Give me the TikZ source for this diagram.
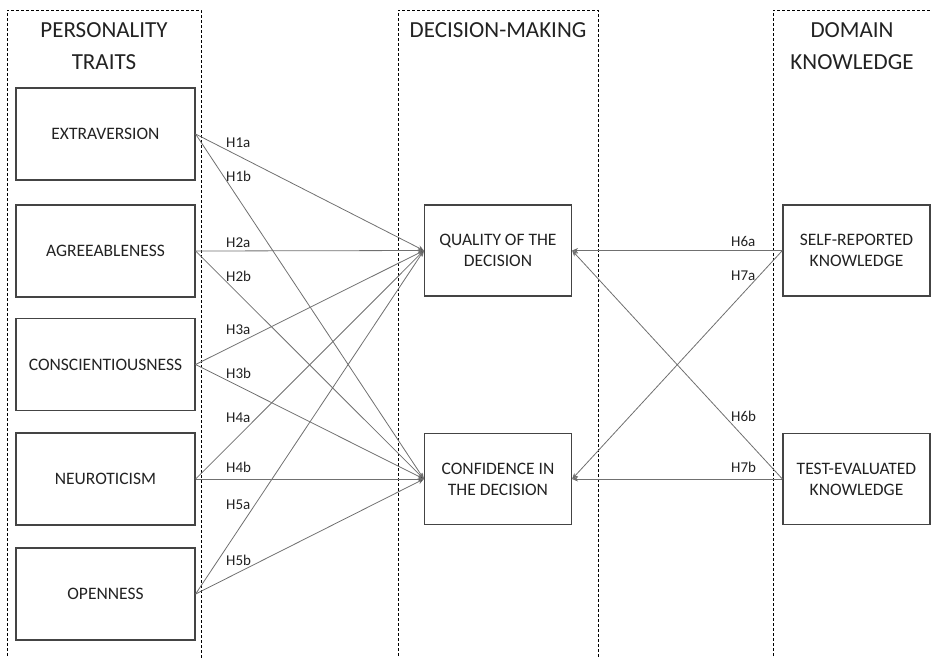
\documentclass[tikz,border=0pt]{standalone}
\usepackage{fontspec}
\setmainfont{Carlito}
\usetikzlibrary{arrows.meta}
\definecolor{txt}{HTML}{222222}
\definecolor{boxc}{HTML}{444444}
\definecolor{linec}{HTML}{707070}
\begin{document}
\begin{tikzpicture}[x=1pt,y=-1pt,
  cbox/.style={draw=boxc,line width=1.2pt,minimum width=179pt,minimum height=92pt,inner sep=0pt,align=center,font=\fontsize{17.5}{21}\selectfont,text=txt},
  mbox/.style={draw=boxc,line width=1.2pt,minimum width=147pt,minimum height=91pt,inner sep=0pt,align=center,font=\fontsize{17.5}{21}\selectfont,text=txt},
  region/.style={draw=black,line width=0.9pt,dash pattern=on 3pt off 2pt},
  header/.style={align=center,font=\fontsize{23}{32}\selectfont,text=txt},
  conn/.style={draw=linec,line width=0.8pt,-{Stealth[length=6pt,width=5pt,fill=black]}},
  hlab/.style={font=\fontsize{15}{17}\selectfont,text=txt,anchor=west,inner sep=0pt}]
\useasboundingbox (0,0) rectangle (931,657);
% regions
\draw[region] (7,661) -- (7,10) -- (201,10) -- (201,661);
\draw[region] (398,661) -- (398,10) -- (598,10) -- (598,661);
\draw[region] (773,661) -- (773,10) -- (935,10);
\node[header] (hp) at (104,46) {PERSONALITY\\TRAITS};
\node[header] (hd) at (498,30) {DECISION-MAKING};
\node[header] (hk) at (852,46) {DOMAIN\\KNOWLEDGE};
% left boxes
\node[cbox] (ex) at (105.5,134) {EXTRAVERSION};
\node[cbox] (ag) at (105.5,251) {AGREEABLENESS};
\node[cbox] (co) at (105.5,364.5) {CONSCIENTIOUSNESS};
\node[cbox] (ne) at (105.5,479) {NEUROTICISM};
\node[cbox] (op) at (105.5,594) {OPENNESS};
% middle
\node[mbox] (q) at (498,250.5) {QUALITY OF THE\\DECISION};
\node[mbox] (c) at (498,479) {CONFIDENCE IN\\THE DECISION};
% right
\node[mbox] (sr) at (856.5,250.5) {SELF-REPORTED\\KNOWLEDGE};
\node[mbox] (te) at (856.5,479) {TEST-EVALUATED\\KNOWLEDGE};
% connectors
\foreach \s in {ex,ag,co,ne,op}{
  \draw[conn] (\s.east) -- (q.west);
  \draw[conn] (\s.east) -- (c.west);
}
\draw[conn] (sr.west) -- (q.east);
\draw[conn] (sr.west) -- (c.east);
\draw[conn] (te.west) -- (c.east);
\draw[conn] (te.west) -- (q.east);
% labels
\node[hlab] (l1a) at (226,143) {H1a};
\node[hlab] (l1b) at (226,176) {H1b};
\node[hlab] (l2a) at (226,243) {H2a};
\node[hlab] (l2b) at (226,276) {H2b};
\node[hlab] (l3a) at (226,330) {H3a};
\node[hlab] (l3b) at (226,373) {H3b};
\node[hlab] (l4a) at (226,418) {H4a};
\node[hlab] (l4b) at (226,467) {H4b};
\node[hlab] (l5a) at (226,505) {H5a};
\node[hlab] (l5b) at (226,560) {H5b};
\node[hlab] (l6a) at (731,241) {H6a};
\node[hlab] (l7a) at (731,276) {H7a};
\node[hlab] (l6b) at (731,416) {H6b};
\node[hlab] (l7b) at (731,467) {H7b};
\end{tikzpicture}
\end{document}
